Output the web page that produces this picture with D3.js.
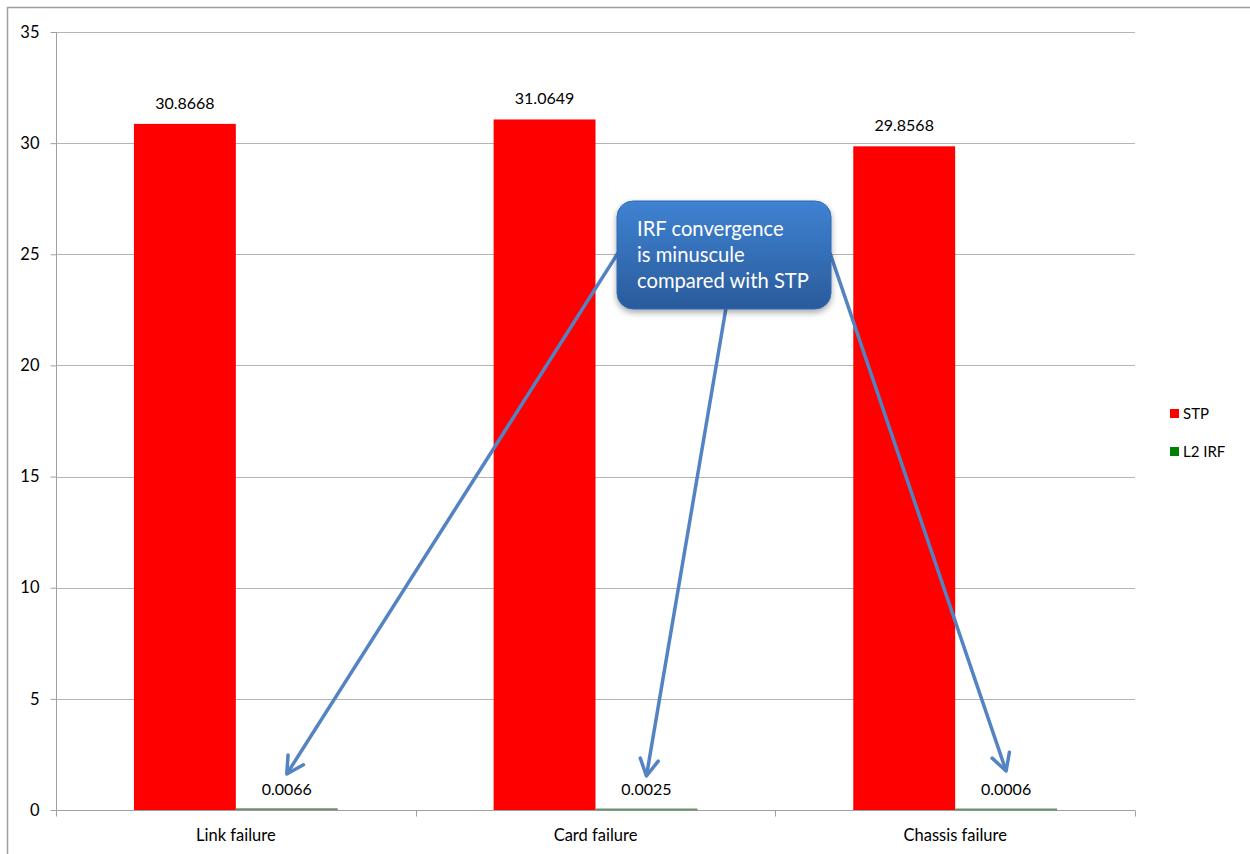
<!DOCTYPE html>
<html><head><meta charset="utf-8">
<script src="https://cdn.jsdelivr.net/npm/d3@7"></script>
<style>body{margin:0;background:#fff}svg{display:block}text{font-family:Lato,"Open Sans",sans-serif}</style>
</head><body><div id="chart"></div>
<script>
const categories = ["Link failure","Card failure","Chassis failure"];
const seriesNames = ["STP","L2 IRF"];
const stpValues = [30.8668, 31.0649, 29.8568];
const irfValues = [0.0066, 0.0025, 0.0006];
const valueLabels = [["30.8668","0.0066"],["31.0649","0.0025"],["29.8568","0.0006"]];
const yTicks = [0,5,10,15,20,25,30,35];
const colors = ["#ff0000","#008000"];
const calloutLines = ["IRF convergence","is minuscule","compared with STP"];

const W=1250,H=854;
const svg=d3.select("#chart").append("svg").attr("width",W).attr("height",H);
const defs=svg.append("defs");
const grad=defs.append("linearGradient").attr("id","cg").attr("x1",0).attr("y1",0).attr("x2",0).attr("y2",1);
grad.append("stop").attr("offset","0%").attr("stop-color","#3f82d2");
grad.append("stop").attr("offset","100%").attr("stop-color","#2a5b9b");
const flt=defs.append("filter").attr("id","sh").attr("x","-20%").attr("y","-20%").attr("width","140%").attr("height","150%");
flt.append("feDropShadow").attr("dx",0).attr("dy",3).attr("stdDeviation",3).attr("flood-color","#000").attr("flood-opacity",0.35);

// outer frame
svg.append("path").attr("d","M7.5,854 L7.5,7.5 L1250,7.5").attr("fill","none").attr("stroke","#a0a0a0").attr("stroke-width",1.5);

const m={l:56,r:1135,t:32,b:810};
const x0=d3.scaleBand().domain(categories).range([m.l,m.r]);
const x1=d3.scaleBand().domain(seriesNames).range([0,x0.bandwidth()]).paddingOuter(0.765).paddingInner(0);
const y=d3.scaleLinear().domain([0,35]).range([m.b,m.t]);

// gridlines
svg.append("g").selectAll("line").data(yTicks.filter(d=>d>0)).join("line")
 .attr("x1",m.l).attr("x2",m.r).attr("y1",d=>Math.round(y(d))+0.5).attr("y2",d=>Math.round(y(d))+0.5)
 .attr("stroke","#b3b3b3").attr("stroke-width",1);

// y axis
const ya=svg.append("g").attr("transform",`translate(${m.l+0.5},0)`).call(d3.axisLeft(y).tickValues(yTicks).tickSize(6).tickPadding(11).tickFormat(d3.format("d")));
ya.select(".domain").attr("stroke","#a0a0a0").attr("d",`M0,${m.t}V${m.b+6}`);
ya.selectAll(".tick line").attr("stroke","#a0a0a0");
ya.selectAll(".tick text").attr("font-size",16.5).attr("fill","#000").attr("font-family","Lato,sans-serif");

// x axis
const xa=svg.append("g").attr("transform",`translate(0,${m.b+0.5})`);
xa.append("line").attr("x1",m.l).attr("x2",m.r).attr("stroke","#a0a0a0");
xa.selectAll("line.tk").data(d3.range(categories.length+1)).join("line").attr("class","tk")
 .attr("x1",i=>Math.round(m.l+i*x0.step())+0.5).attr("x2",i=>Math.round(m.l+i*x0.step())+0.5).attr("y1",0).attr("y2",6).attr("stroke","#a0a0a0");
xa.selectAll("text").data(categories).join("text").attr("x",d=>x0(d)+x0.bandwidth()/2).attr("y",30)
 .attr("text-anchor","middle").attr("font-size",16.5).text(d=>d);

// bars
const rows=categories.map((c,i)=>({c,vals:[stpValues[i],irfValues[i]],labels:valueLabels[i]}));
const g=svg.append("g").selectAll("g").data(rows).join("g").attr("transform",d=>`translate(${x0(d.c)},0)`);
g.selectAll("rect").data(d=>d.vals.map((v,j)=>({v,s:seriesNames[j],j}))).join("rect")
 .attr("x",d=>x1(d.s)).attr("width",x1.bandwidth())
 .attr("y",d=>y(d.v)).attr("height",d=>m.b-y(d.v))
 .attr("fill",d=>colors[d.j]);
g.selectAll("line.irf").data(d=>[d.vals[1]]).join("line").attr("class","irf")
 .attr("x1",x1("L2 IRF")).attr("x2",x1("L2 IRF")+x1.bandwidth()).attr("y1",d=>y(d)-0.5).attr("y2",d=>y(d)-0.5)
 .attr("stroke","#6f8f6f").attr("stroke-width",2);
g.selectAll("text").data(d=>d.vals.map((v,j)=>({v,s:seriesNames[j],lab:d.labels[j]}))).join("text")
 .attr("x",d=>x1(d.s)+x1.bandwidth()/2).attr("y",d=>y(d.v)-15)
 .attr("text-anchor","middle").attr("font-size",16).text(d=>d.lab);

// legend
const lg=svg.append("g").attr("transform","translate(1170,409)");
seriesNames.forEach((s,i)=>{
  const r=lg.append("g").attr("transform",`translate(0,${i*38})`);
  r.append("rect").attr("width",9).attr("height",9).attr("fill",colors[i]);
  r.append("text").attr("x",13).attr("y",10).attr("font-size",15).text(s);
});

// arrows
const arrowColor="#5383c3";
const arrowData=[
 {from:[618,253], to:[x0(categories[0])+x1("L2 IRF")+x1.bandwidth()/2, y(0)-36]},
 {from:[726,308], to:[x0(categories[1])+x1("L2 IRF")+x1.bandwidth()/2, y(0)-34]},
 {from:[830,253], to:[x0(categories[2])+x1("L2 IRF")+x1.bandwidth()/2, y(0)-39]}
];
const ag=svg.append("g");
arrowData.forEach(a=>{
  const [x1_,y1_]=a.from,[x2_,y2_]=a.to;
  const ang=Math.atan2(y2_-y1_,x2_-x1_);
  const L=19,sp=0.5;
  ag.append("line").attr("x1",x1_).attr("y1",y1_).attr("x2",x2_).attr("y2",y2_).attr("stroke",arrowColor).attr("stroke-width",3.5);
  const p1=[x2_-L*Math.cos(ang-sp),y2_-L*Math.sin(ang-sp)], p2=[x2_-L*Math.cos(ang+sp),y2_-L*Math.sin(ang+sp)];
  ag.append("path").attr("d",`M${p1}L${x2_},${y2_}L${p2}`).attr("fill","none").attr("stroke",arrowColor).attr("stroke-width",3.5).attr("stroke-linecap","round").attr("stroke-linejoin","round");
});

// callout
const cg=svg.append("g");
cg.append("rect").attr("x",617).attr("y",201).attr("width",214).attr("height",108).attr("rx",16)
 .attr("fill","url(#cg)").attr("stroke","#2f6bb5").attr("stroke-width",1).attr("filter","url(#sh)");
cg.selectAll("text").data(calloutLines).join("text").attr("x",637).attr("y",(d,i)=>236+i*26)
 .attr("fill","#fff").attr("font-size",20.2).text(d=>d);
</script></body></html>
